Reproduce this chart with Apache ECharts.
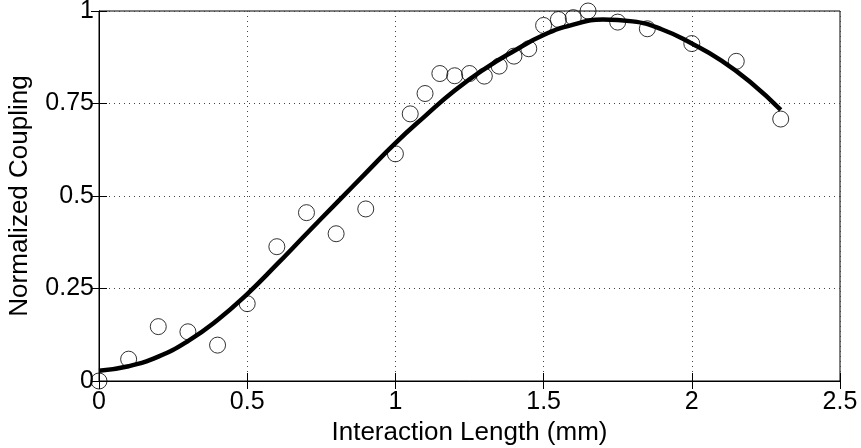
<!DOCTYPE html>
<html>
<head>
<meta charset="utf-8">
<script src="https://cdn.jsdelivr.net/npm/echarts@6/dist/echarts.min.js"></script>
<style>
  html, body { margin: 0; padding: 0; background: #fff; }
  #chart { width: 861px; height: 448px; }
</style>
</head>
<body>
<div id="chart"></div>
<script>
// Measured coupling at each interaction length (mm)
const measuredLength = [0, 0.1, 0.2, 0.3, 0.4, 0.5, 0.6, 0.7, 0.8, 0.9, 1.0, 1.05, 1.1, 1.15, 1.2, 1.25, 1.3, 1.35, 1.4, 1.45, 1.5, 1.55, 1.6, 1.65, 1.75, 1.85, 2.0, 2.15, 2.3];
const measuredCoupling = [0, 0.059, 0.147, 0.133, 0.097, 0.209, 0.363, 0.455, 0.398, 0.465, 0.614, 0.722, 0.777, 0.831, 0.825, 0.831, 0.824, 0.851, 0.878, 0.898, 0.961, 0.977, 0.982, 1.0, 0.970, 0.952, 0.912, 0.864, 0.708];

// Fitted coupling curve
const fitLength = [0, 0.1, 0.2, 0.3, 0.4, 0.5, 0.6, 0.7, 0.8, 0.9, 1.0, 1.1, 1.2, 1.3, 1.4, 1.5, 1.6, 1.7, 1.8, 1.9, 2.0, 2.1, 2.2, 2.3];
const fitCoupling = [0.028, 0.040, 0.066, 0.108, 0.165, 0.235, 0.315, 0.398, 0.480, 0.562, 0.643, 0.716, 0.785, 0.843, 0.892, 0.935, 0.963, 0.977, 0.972, 0.950, 0.912, 0.866, 0.806, 0.733];

// Axis ticks
const xTicks = [0, 0.5, 1, 1.5, 2, 2.5];
const yTicks = [0, 0.25, 0.5, 0.75, 1];

const FONT = 'Liberation Sans, Arial, sans-serif';
const chart = echarts.init(document.getElementById('chart'), null, { renderer: 'canvas' });

const tickStyle = { show: true, inside: true, length: 8, lineStyle: { color: '#000', width: 1 } };
const gridLine = { show: true, lineStyle: { color: '#444', width: 1, type: [1, 4] } };

chart.setOption({
  animation: false,
  backgroundColor: '#fff',
  grid: {
    left: 99, right: 21, top: 11, bottom: 67,
    outerBoundsMode: 'none', containLabel: false,
    show: true, borderColor: '#000', borderWidth: 1, backgroundColor: 'transparent'
  },
  xAxis: [
    {
      type: 'value', position: 'bottom',
      min: xTicks[0], max: xTicks[xTicks.length - 1], interval: 0.5,
      name: 'Interaction Length (mm)', nameLocation: 'middle', nameGap: 32,
      nameTextStyle: { fontFamily: FONT, fontSize: 26, color: '#000' },
      axisLine: { show: true, lineStyle: { color: '#000', width: 1 } },
      axisTick: tickStyle,
      axisLabel: { fontFamily: FONT, fontSize: 25, color: '#000', margin: 9, formatter: v => String(v) },
      splitLine: gridLine
    },
    {
      type: 'value', position: 'top',
      min: xTicks[0], max: xTicks[xTicks.length - 1], interval: 0.5,
      axisLine: { show: true, lineStyle: { color: '#000', width: 1 } },
      axisTick: tickStyle, axisLabel: { show: false }, splitLine: { show: false }
    }
  ],
  yAxis: [
    {
      type: 'value', position: 'left',
      min: yTicks[0], max: yTicks[yTicks.length - 1], interval: 0.25,
      name: 'Normalized Coupling', nameLocation: 'middle', nameGap: 66,
      nameTextStyle: { fontFamily: FONT, fontSize: 26, color: '#000' },
      axisLine: { show: true, lineStyle: { color: '#000', width: 1 } },
      axisTick: tickStyle,
      axisLabel: { fontFamily: FONT, fontSize: 25, color: '#000', margin: 5, formatter: v => String(v) },
      splitLine: gridLine
    },
    {
      type: 'value', position: 'right',
      min: yTicks[0], max: yTicks[yTicks.length - 1], interval: 0.25,
      axisLine: { show: true, lineStyle: { color: '#000', width: 1 } },
      axisTick: tickStyle, axisLabel: { show: false }, splitLine: { show: false }
    }
  ],
  series: [
    {
      type: 'line', name: 'fit', xAxisIndex: 0, yAxisIndex: 0,
      data: fitLength.map((x, i) => [x, fitCoupling[i]]),
      smooth: true, showSymbol: false, symbol: 'none',
      lineStyle: { color: '#000', width: 4.5 }, z: 3
    },
    {
      type: 'scatter', name: 'measured', xAxisIndex: 0, yAxisIndex: 0,
      data: measuredLength.map((x, i) => [x, measuredCoupling[i]]),
      symbol: 'circle', symbolSize: 16, clip: false,
      itemStyle: { color: 'rgba(0,0,0,0)', borderColor: '#000', borderWidth: 1 }, z: 4
    }
  ]
});
</script>
</body>
</html>
